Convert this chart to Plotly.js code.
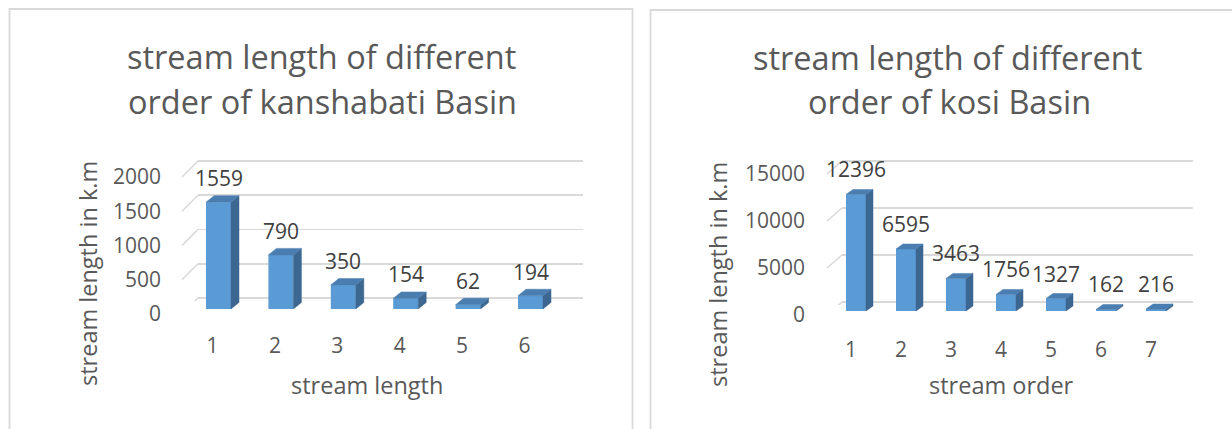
<!DOCTYPE html>
<html>
<head>
<meta charset="utf-8">
<script src="https://cdn.plot.ly/plotly-3.0.1.min.js"></script>
<style>html,body{margin:0;padding:0;background:#fff;}#chart{width:1232px;height:429px;}</style>
</head>
<body>
<div id="chart"></div>
<script>
// ---- data ----
const kanshabatiOrders = [1, 2, 3, 4, 5, 6];
const kanshabatiLengths = [1559, 790, 350, 154, 62, 194];
const kosiOrders = [1, 2, 3, 4, 5, 6, 7];
const kosiLengths = [12396, 6595, 3463, 1756, 1327, 162, 216];
const kanshabatiTicks = [0, 500, 1000, 1500, 2000];
const kosiTicks = [0, 5000, 10000, 15000];
const kanshabatiTitle = ['stream length of different', 'order of kanshabati Basin'];
const kosiTitle = ['stream length of different', 'order of kosi Basin'];
const yTitleText = 'stream length in k.m';
const kanshabatiXTitle = 'stream length';
const kosiXTitle = 'stream order';

// ---- layout helpers (pixel -> paper) ----
const W = 1232, H = 429;
const fx = p => p / W;
const fy = p => 1 - p / H;

const FONT = 'Open Sans, sans-serif';
const GRID = '#D9D9D9';
const TXT = '#595959';
const LBL = '#404040';
const FRONT = '#5B9BD5', SIDE = '#3C6791', TOP = '#4A7DB0';

// panel geometry
const P = [
  { // left
    xd: [198, 583], backY: [298, 161], barY0: 309, depth: [16, 16],
    cat0: 218.5, step: 62.4, barW: 25, dx: 8, dy: 6.5, yMax: 2000,
    labShift: -6, ticks: kanshabatiTicks, cats: kanshabatiOrders, vals: kanshabatiLengths,
    lblShift: 24
  },
  { // right
    xd: [842, 1193], backY: [302, 161], barY0: 311, depth: [15, 13],
    cat0: 856, step: 50, barW: 20, dx: 7, dy: 5, yMax: 15000,
    labShift: -5, ticks: kosiTicks, cats: kosiOrders, vals: kosiLengths,
    lblShift: 25
  }
];

const traces = [];
const shapes = [];
const annotations = [];
const layout = {
  width: W, height: H,
  margin: {l: 0, r: 0, t: 0, b: 0},
  paper_bgcolor: '#ffffff', plot_bgcolor: 'rgba(0,0,0,0)',
  showlegend: false,
  font: {family: FONT, color: TXT},
  shapes: shapes, annotations: annotations
};

const PAD = 3; // px of extra range so edge gridlines are drawn

P.forEach((p, i) => {
  const xa = i === 0 ? 'x' : 'x2';
  const ya = i === 0 ? 'y' : 'y2';
  const yb = i === 0 ? 'y3' : 'y4';
  const xKey = i === 0 ? 'xaxis' : 'xaxis2';
  const yKey = i === 0 ? 'yaxis' : 'yaxis2';
  const ybKey = i === 0 ? 'yaxis3' : 'yaxis4';
  const xw = p.xd[1] - p.xd[0];
  const r0 = 1 - (p.cat0 - p.xd[0]) / p.step;
  const r1 = r0 + xw / p.step;
  const pxPerUnit = (p.backY[0] - p.backY[1]) / p.yMax;
  const padU = PAD / pxPerUnit;

  layout[xKey] = {
    domain: [fx(p.xd[0]), fx(p.xd[1])], range: [r0, r1], anchor: ya,
    showgrid: false, zeroline: false, showline: false, ticks: '',
    tickvals: p.cats, ticktext: p.cats.map(String),
    tickfont: {family: FONT, size: 21, color: TXT},
    ticklabelshift: p.labShift, ticklabelstandoff: 30, fixedrange: true
  };
  layout[yKey] = {
    domain: [fy(p.backY[0] + PAD), fy(p.backY[1] - PAD)], range: [-padU, p.yMax + padU], anchor: xa,
    showgrid: true, gridcolor: GRID, gridwidth: 1.6, zeroline: false, showline: false,
    ticks: '', tickvals: p.ticks, ticktext: p.ticks.map(String),
    tickfont: {family: FONT, size: 21, color: TXT},
    ticklabelshift: p.depth[1], ticklabelstandoff: 36, fixedrange: true
  };
  const barTop = p.barY0 - p.yMax * pxPerUnit;
  layout[ybKey] = {
    domain: [fy(p.barY0), fy(barTop)], range: [0, p.yMax], anchor: xa,
    visible: false, fixedrange: true
  };

  // left diagonals of the 3D back wall
  p.ticks.forEach(t => {
    shapes.push({
      type: 'line', xref: 'paper', yref: ya, ysizemode: 'pixel', yanchor: t,
      x0: fx(p.xd[0] - p.depth[0]), x1: fx(p.xd[0]), y0: -p.depth[1], y1: 0,
      line: {color: GRID, width: 1.6}, layer: 'below'
    });
  });

  const bw = p.barW / p.step;
  const dxU = p.dx / p.step;
  const dyU = p.dy / pxPerUnit;

  // front faces
  traces.push({
    type: 'bar', x: p.cats, y: p.vals, xaxis: xa, yaxis: yb, width: bw,
    marker: {color: FRONT, line: {width: 0}}, hoverinfo: 'x+y'
  });
  // side and top faces
  const sx = [], sy = [];
  const tx = [], ty = [];
  p.cats.forEach((c, k) => {
    const v = p.vals[k];
    const xr = c + bw / 2, xl = c - bw / 2;
    sx.push(xr, xr + dxU, xr + dxU, xr, xr, null);
    sy.push(0, dyU, v + dyU, v, 0, null);
    tx.push(xl, xr, xr + dxU, xl + dxU, xl, null);
    ty.push(v, v, v + dyU, v + dyU, v, null);
  });
  traces.push({
    type: 'scatter', mode: 'lines', x: sx, y: sy, xaxis: xa, yaxis: yb,
    fill: 'toself', fillcolor: SIDE, line: {width: 0.5, color: SIDE}, hoverinfo: 'skip'
  });
  traces.push({
    type: 'scatter', mode: 'lines', x: tx, y: ty, xaxis: xa, yaxis: yb,
    fill: 'toself', fillcolor: TOP, line: {width: 0.5, color: TOP}, hoverinfo: 'skip'
  });

  // data labels
  p.cats.forEach((c, k) => {
    annotations.push({
      xref: xa, yref: yb, x: c, y: p.vals[k], text: String(p.vals[k]),
      showarrow: false, yanchor: 'middle', xanchor: 'center', yshift: p.lblShift,
      font: {family: FONT, size: 21, color: LBL}
    });
  });
});

// titles
function addText(txt, x, y, size, angle) {
  annotations.push({
    xref: 'paper', yref: 'paper', x: fx(x), y: fy(y), text: txt, showarrow: false,
    xanchor: 'center', yanchor: 'middle', textangle: angle || 0,
    font: {family: FONT, size: size, color: TXT}
  });
}
addText(kanshabatiTitle[0], 321, 56, 32.5);
addText(kanshabatiTitle[1], 322, 101, 32.5);
addText(kosiTitle[0], 947, 57, 32.5);
addText(kosiTitle[1], 949, 102, 32.5);
addText(yTitleText, 88, 274, 23.5, -90);
addText(yTitleText, 718, 275, 23.5, -90);
addText(kanshabatiXTitle, 367, 385, 23.5);
addText(kosiXTitle, 1001, 385, 23.5);

// panel borders
shapes.push({type: 'rect', xref: 'paper', yref: 'paper', x0: fx(9.5), x1: fx(632.5), y0: fy(440), y1: fy(9),
  line: {color: GRID, width: 1.8}, layer: 'below'});
shapes.push({type: 'rect', xref: 'paper', yref: 'paper', x0: fx(650.5), x1: fx(1250), y0: fy(440), y1: fy(10),
  line: {color: GRID, width: 1.8}, layer: 'below'});

Plotly.newPlot('chart', traces, layout, {displayModeBar: false, staticPlot: true});
</script>
</body>
</html>
